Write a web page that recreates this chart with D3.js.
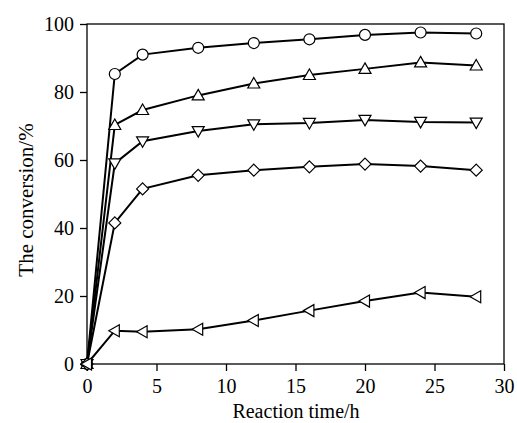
<!DOCTYPE html>
<html>
<head>
<meta charset="utf-8">
<script src="https://cdn.jsdelivr.net/npm/d3@7"></script>
<style>
  body { margin: 0; background: #fff; }
  text { font-family: "Liberation Serif", "Times New Roman", serif; fill: #000; }
</style>
</head>
<body>
<div id="chart"></div>
<script>
// data
var times = [0, 2, 4, 8, 12, 16, 20, 24, 28];
var circleSeries   = [0, 85.3, 91, 93, 94.4, 95.5, 96.8, 97.5, 97.2];
var triUpSeries    = [0, 70.3, 74.7, 79, 82.5, 85, 86.8, 88.7, 87.8];
var triDownSeries  = [0, 59, 65.5, 68.5, 70.5, 70.9, 71.8, 71.2, 71];
var diamondSeries  = [0, 41.5, 51.5, 55.5, 57, 58, 58.8, 58.2, 57];
var triLeftSeries  = [0, 9.8, 9.5, 10.2, 12.8, 15.7, 18.5, 21, 19.8];
var xTicks = [0, 5, 10, 15, 20, 25, 30];
var yTicks = [0, 20, 40, 60, 80, 100];

var svgWidth = 517;
var svgHeight = 423;
var margin = { top: 24, right: 13, bottom: 59, left: 87 };
var width = svgWidth - margin.left - margin.right;
var height = svgHeight - margin.top - margin.bottom;

var svg = d3.select("#chart").append("svg")
    .attr("width", svgWidth)
    .attr("height", svgHeight);

var chartGroup = svg.append("g")
    .attr("transform", `translate(${margin.left}, ${margin.top})`);

var x = d3.scaleLinear().domain([0, 30]).range([0, width]);
var y = d3.scaleLinear().domain([0, 100]).range([height, 0]);

// frame
chartGroup.append("rect")
    .attr("width", width).attr("height", height)
    .attr("fill", "none").attr("stroke", "#000").attr("stroke-width", 1.3);

var xAxis = chartGroup.append("g")
    .attr("transform", `translate(0, ${height})`)
    .call(d3.axisBottom(x).tickValues(xTicks).tickSize(7).tickPadding(8).tickFormat(d3.format("d")));
var yAxis = chartGroup.append("g")
    .call(d3.axisLeft(y).tickValues(yTicks).tickSize(7).tickPadding(6).tickFormat(d3.format("d")));

[xAxis, yAxis].forEach(function(a) {
    a.select(".domain").remove();
    a.selectAll("line").attr("stroke", "#000").attr("stroke-width", 1.3);
    a.selectAll("text").style("font-family", "Liberation Serif").style("font-size", "20px");
});

// axis titles
svg.append("text")
    .attr("x", 296)
    .attr("y", 418)
    .attr("text-anchor", "middle")
    .style("font-size", "20px")
    .text("Reaction time/h");

svg.append("text")
    .attr("transform", "translate(33, 200) rotate(-90)")
    .attr("text-anchor", "middle")
    .style("font-size", "21px")
    .text("The conversion/%");

// series
var series = [
    { values: circleSeries, shape: "circle" },
    { values: triUpSeries, shape: "up" },
    { values: triDownSeries, shape: "down" },
    { values: diamondSeries, shape: "diamond" },
    { values: triLeftSeries, shape: "left" }
];

function markerPath(shape) {
    var s = 6;
    if (shape === "up") return `M0,${-s} L${s},${s * 0.75} L${-s},${s * 0.75} Z`;
    if (shape === "down") return `M0,${s} L${s},${-s * 0.75} L${-s},${-s * 0.75} Z`;
    if (shape === "left") return `M${-s},0 L${s * 0.75},${-s} L${s * 0.75},${s} Z`;
    if (shape === "diamond") return `M0,${-s} L${s},0 L0,${s} L${-s},0 Z`;
    return null;
}

var line = d3.line()
    .x(function(d, i) { return x(times[i]); })
    .y(function(d) { return y(d); });

series.forEach(function(s) {
    chartGroup.append("path")
        .datum(s.values)
        .attr("fill", "none")
        .attr("stroke", "#000")
        .attr("stroke-width", 2)
        .attr("d", line);
});

series.forEach(function(s) {
    var g = chartGroup.append("g");
    var pts = g.selectAll("g").data(s.values).enter().append("g")
        .attr("transform", function(d, i) { return `translate(${x(times[i])}, ${y(d)})`; });
    if (s.shape === "circle") {
        pts.append("circle").attr("r", 5.5)
            .attr("fill", "#fff").attr("stroke", "#000").attr("stroke-width", 1.2);
    } else {
        pts.append("path").attr("d", markerPath(s.shape))
            .attr("fill", "#fff").attr("stroke", "#000").attr("stroke-width", 1.2);
    }
});
</script>
</body>
</html>
